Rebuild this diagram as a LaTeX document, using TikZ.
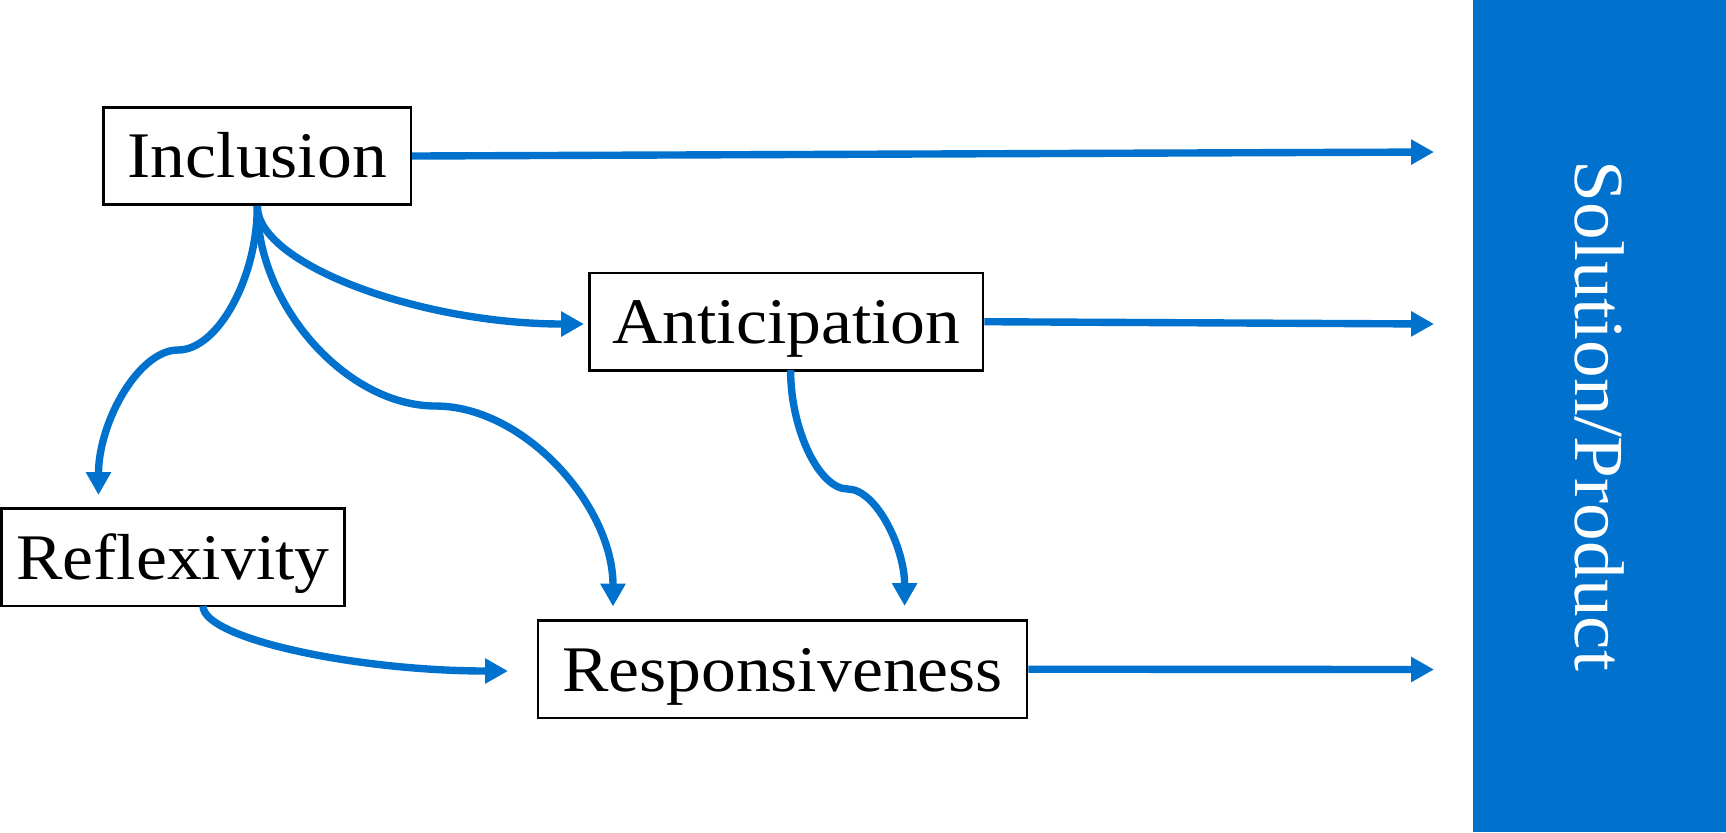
\documentclass[tikz,border=0pt]{standalone}
\usepackage{fontspec}
\setmainfont{Liberation Serif}[FakeStretch=1.07]
\usetikzlibrary{arrows.meta,calc}
\definecolor{mainblue}{RGB}{0,114,206}
\begin{document}
\begin{tikzpicture}[x=0.01cm,y=-0.01cm,
  box/.style={draw=black, line width=0.75pt, fill=white, inner sep=0pt,
    font=\fontsize{18.5}{22}\selectfont, text height=12.5pt, text depth=0pt,
    minimum height=0.973cm},
  conn/.style={draw=mainblue, line width=2.1pt, -{Triangle[length=6.5pt,width=6.8pt]}},
  panel/.style={fill=mainblue, draw=none, inner sep=0pt, text=white,
    font=\fontsize{20}{24}\selectfont, text height=13.5pt, text depth=0pt}
]
\useasboundingbox (0,0) rectangle (1726,832);

% nodes
\node[box, minimum width=3.07cm] (I) at (257.3,156) {Inclusion};
\node[box, minimum width=3.93cm] (A) at (786.4,321.7) {Anticipation};
\node[box, minimum width=4.89cm] (R) at (782.5,669.2) {Responsiveness};
\node[box, minimum width=3.43cm] (F) at (173,557.3) {Reflexivity};
\node[panel, rotate=-90, minimum width=8.32cm, minimum height=2.53cm] (S) at (1599.5,416) {Solution/Product};

% connector end points
\coordinate (t1) at (1434,152);
\coordinate (t2) at (1434,324);
\coordinate (t3) at (1434,669.5);
\coordinate (ta) at (584,324);
\coordinate (tf) at (98.5,495);
\coordinate (tr1) at (613,606.5);
\coordinate (tr2) at (904.6,606);
\coordinate (tr3) at (508,671);
\coordinate (as) at (790.6,370.2);
\coordinate (fs) at (203,606);

% connectors to the solution panel
\draw[conn] (I.east) -- (t1);
\draw[conn] (A.east) -- (t2);
\draw[conn] (R.east) -- (t3);

% Inclusion -> Anticipation
\draw[conn] (I.south) .. controls (257.3,264.5) and (421,324) .. (ta);
% Inclusion -> Reflexivity
\draw[conn] (I.south) .. controls (257.3,277.5) and (218,350) .. (178,350)
  .. controls (138.5,350) and (98.5,422.5) .. (tf);
% Inclusion -> Responsiveness
\draw[conn] (I.south) .. controls (257.3,305.5) and (346.75,406) .. (435.5,406)
  .. controls (524.25,406) and (613,506) .. (tr1);
% Anticipation -> Responsiveness
\draw[conn] (as) .. controls (790.6,429.5) and (819.1,489) .. (847.6,489)
  .. controls (876.1,489) and (904.6,547.5) .. (tr2);
% Reflexivity -> Responsiveness
\draw[conn] (fs) .. controls (203,638.5) and (355.5,671) .. (tr3);
\end{tikzpicture}
\end{document}
